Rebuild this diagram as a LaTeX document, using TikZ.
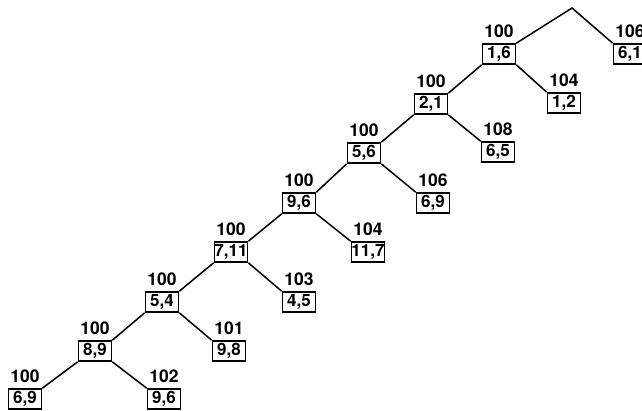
\documentclass[tikz,border=0pt]{standalone}
\usepackage{fontspec}
\setmainfont{TeX Gyre Heros}
\begin{document}
\begin{tikzpicture}[x=1pt,y=-1pt,
  box/.style={draw,line width=1.6pt,minimum width=33pt,minimum height=20pt,inner sep=0pt,font=\fontsize{17}{17}\selectfont\bfseries},
  lab/.style={anchor=south,inner sep=0pt,font=\fontsize{17.5}{17.5}\selectfont\bfseries},
  edge/.style={line width=1.5pt}]
\useasboundingbox (0,0) rectangle (642,410);
% diagonal nodes
\node[box] (A) at (25,399) {6,9};
\node[box] (B) at (95,351) {8,9};
\node[box] (C) at (162,302) {5,4};
\node[box] (D) at (231,252) {7,11};
\node[box] (E) at (299,203) {9,6};
\node[box] (F) at (364,153) {5,6};
\node[box] (G) at (431,104) {2,1};
\node[box] (H) at (499,54) {1,6};
% right children
\node[box] (b) at (164,399) {9,6};
\node[box] (c) at (229,351) {9,8};
\node[box] (d) at (299,302) {4,5};
\node[box] (e) at (368,252) {11,7};
\node[box] (f) at (433,203) {6,9};
\node[box] (g) at (498,152) {6,5};
\node[box] (h) at (564,103) {1,2};
\node[box] (i) at (630,54) {6,1};
\coordinate (apex) at (572,8);
% labels
\foreach \n/\t in {A/100,B/100,C/100,D/100,E/100,F/100,G/100,H/100,b/102,c/101,d/103,e/104,f/106,g/108,h/104,i/106}
  \node[lab] (l\n) at ([yshift=5pt]\n.north) {\t};
% connectors
\draw[edge] (B.south west) -- (A.north east);
\draw[edge] (B.south east) -- (b.north west);
\draw[edge] (C.south west) -- (B.north east);
\draw[edge] (C.south east) -- (c.north west);
\draw[edge] (D.south west) -- (C.north east);
\draw[edge] (D.south east) -- (d.north west);
\draw[edge] (E.south west) -- (D.north east);
\draw[edge] (E.south east) -- (e.north west);
\draw[edge] (F.south west) -- (E.north east);
\draw[edge] (F.south east) -- (f.north west);
\draw[edge] (G.south west) -- (F.north east);
\draw[edge] (G.south east) -- (g.north west);
\draw[edge] (H.south west) -- (G.north east);
\draw[edge] (H.south east) -- (h.north west);
\draw[edge] (H.north east) -- (apex) -- (i.north west);
\end{tikzpicture}
\end{document}
